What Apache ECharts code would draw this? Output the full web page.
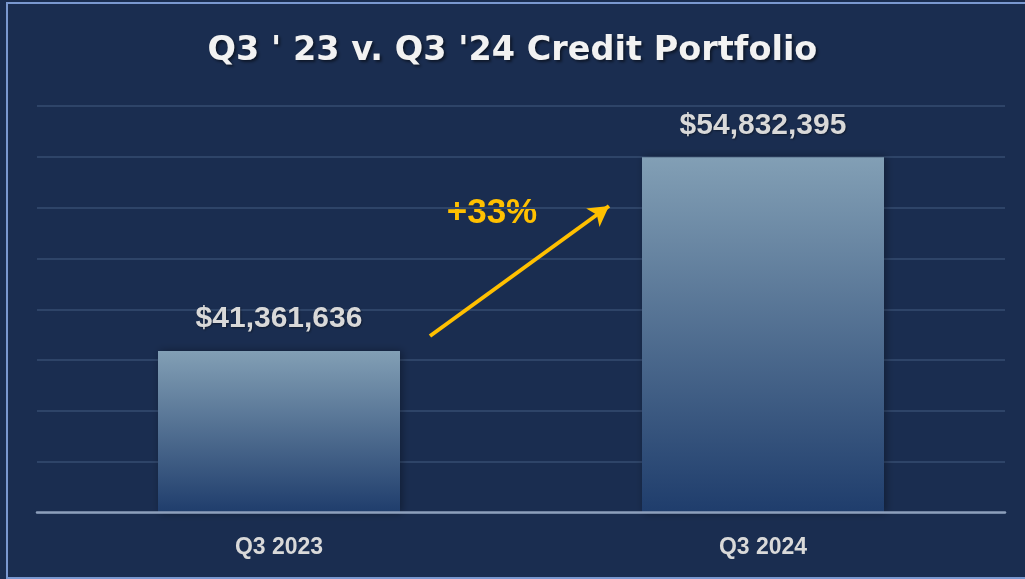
<!DOCTYPE html>
<html lang="en">
<head>
    <meta charset="UTF-8">
    <title>Credit Portfolio</title>
    <script src="https://cdn.jsdelivr.net/npm/echarts@6/dist/echarts.min.js"></script>
</head>
<style>
html,body{margin: 0;padding: 0;background-color: #1a2d50}
#chartBox{width: 1025px;height: 579px}
</style>
<body>
    <div id="chartBox"></div>
</body>
<script>
// 数据
const categories = ['Q3 2023', 'Q3 2024'];
const portfolioValues = [41361636, 54832395];
const growthLabel = '+33%';
const chartTitle = "Q3 ' 23 v. Q3 '24 Credit Portfolio";

function money(v) {
    return '$' + v.toLocaleString('en-US');
}

let chartObj = echarts.init(document.getElementById('chartBox'));
let option = {
    backgroundColor: '#1a2d50',
    title: {
        text: chartTitle,
        left: 'center',
        top: 29,
        textStyle: {
            color: '#f2f2f2',
            fontFamily: 'DejaVu Sans',
            fontWeight: 'bold',
            fontSize: 33.5,
            textShadowColor: 'rgba(0,0,0,0.5)',
            textShadowBlur: 3,
            textShadowOffsetX: 2,
            textShadowOffsetY: 2
        }
    },
    grid: {left: 37, right: 20, top: 106, bottom: 66.5},
    xAxis: {
        type: 'category',
        data: categories,
        axisTick: {show: false},
        axisLine: {lineStyle: {color: '#8d9fbb', width: 2.5}},
        axisLabel: {
            color: '#d9d9d9',
            fontFamily: 'Liberation Sans, Arial, sans-serif',
            fontWeight: 'bold',
            fontSize: 23,
            margin: 24
        },
        z: 5
    },
    yAxis: [
        {
            type: 'value',
            min: 30130000,
            max: 58400000,
            show: false,
            splitLine: {show: false}
        },
        {
            // 只用来画网格线
            type: 'value',
            min: 0,
            max: 8,
            interval: 1,
            axisLabel: {show: false},
            axisLine: {show: false},
            axisTick: {show: false},
            splitLine: {lineStyle: {color: '#2e4468', width: 2}}
        }
    ],
    series: [{
        type: 'bar',
        yAxisIndex: 0,
        data: portfolioValues,
        barWidth: '50%',
        itemStyle: {
            color: new echarts.graphic.LinearGradient(0, 0, 0, 1, [
                {offset: 0, color: '#829fb5'},
                {offset: 1, color: '#1f3d6c'}
            ]),
            shadowColor: 'rgba(0,0,0,0.35)',
            shadowBlur: 8,
            shadowOffsetX: 2
        },
        label: {
            show: true,
            position: 'top',
            distance: 17,
            color: '#d9d9d9',
            fontFamily: 'Liberation Sans, Arial, sans-serif',
            fontWeight: 'bold',
            fontSize: 30,
            formatter: p => money(p.value),
            textShadowColor: 'rgba(0,0,0,0.4)',
            textShadowBlur: 2,
            textShadowOffsetX: 1,
            textShadowOffsetY: 1
        },
        markLine: {
            silent: true,
            symbol: ['none', 'arrow'],
            symbolSize: [17, 20],
            label: {show: false},
            lineStyle: {color: '#ffc000', width: 4, type: 'solid'},
            data: [[{x: 430, y: 336}, {x: 609, y: 206}]]
        }
    }],
    graphic: [
        {
            type: 'text',
            x: 492,
            y: 213,
            style: {
                text: growthLabel,
                fill: '#ffc000',
                font: 'bold 35px "Liberation Sans", Arial, sans-serif',
                textAlign: 'center',
                textVerticalAlign: 'middle'
            }
        },
        {
            type: 'rect',
            shape: {x: 7, y: 3, width: 1030, height: 575},
            style: {fill: 'none', stroke: '#7a98d0', lineWidth: 2},
            silent: true
        }
    ]
};
chartObj.setOption(option);
</script>
</html>
